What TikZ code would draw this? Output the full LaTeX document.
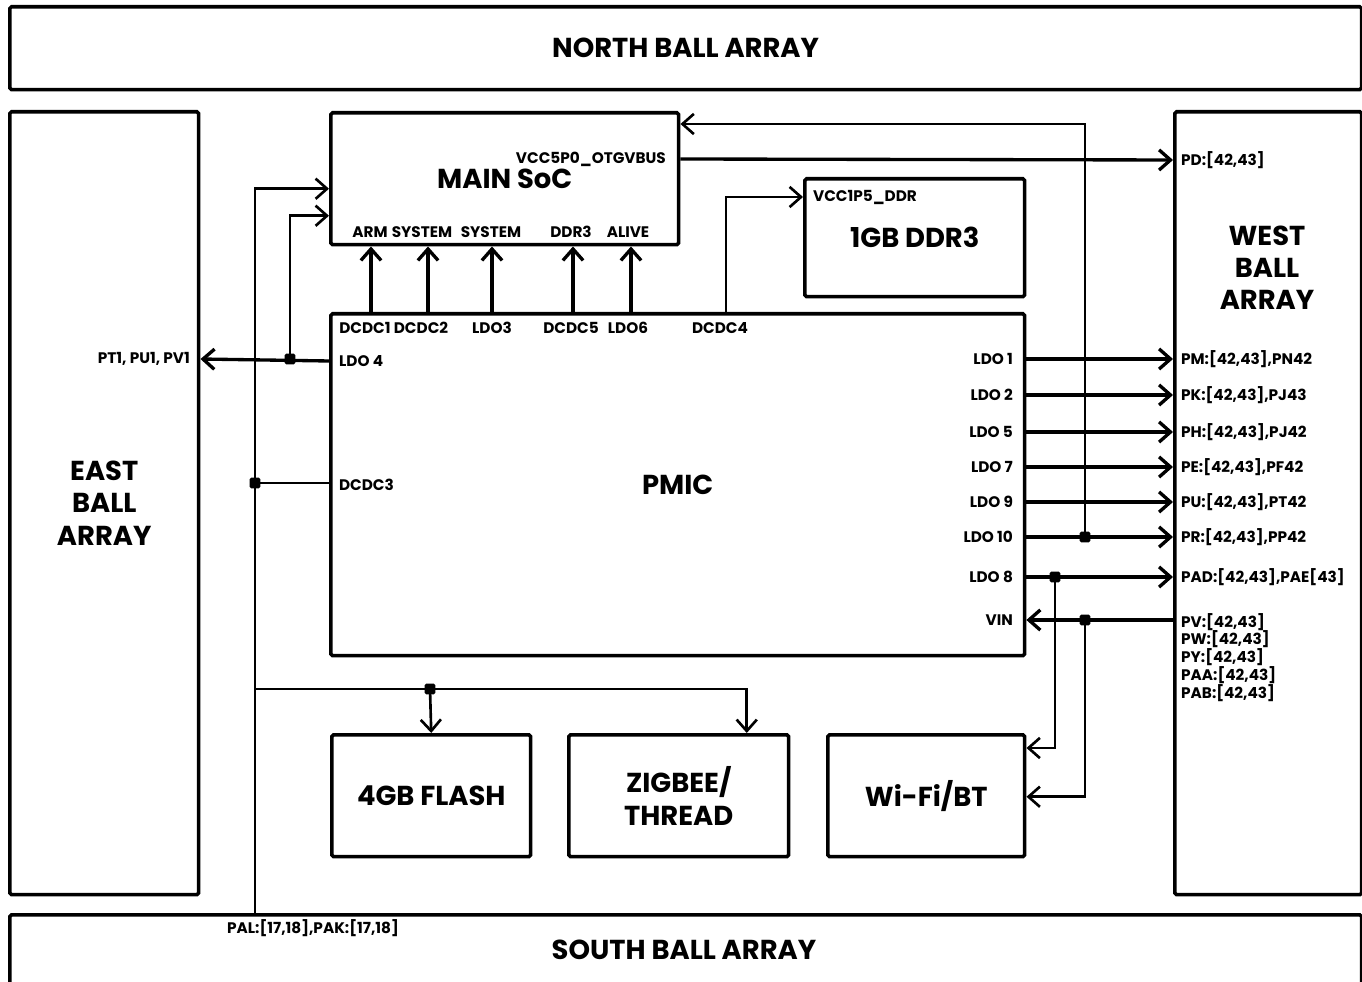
\documentclass[tikz,border=0pt]{standalone}
\usepackage{fontspec}
\setmainfont{Poppins}
\usetikzlibrary{arrows.meta,positioning,calc}
\tikzset{
  blk/.style={draw,line width=2pt,rounded corners=1pt,inner sep=0pt,anchor=north west,
    align=center,font=\bfseries\fontsize{15.6}{18.7}\selectfont},
  title/.style={inner sep=0pt,align=center,font=\bfseries\fontsize{15.6}{18.2}\selectfont},
  pin/.style={inner sep=1pt,font=\bfseries\fontsize{8.7}{10.2}\selectfont},
  arr/.style={-{Straight Barb[length=6.5pt,width=11.5pt]},line width=1.9pt},
  arrthin/.style={-{Straight Barb[length=6.5pt,width=11.5pt]},line width=1.5pt},
  wire/.style={line width=1.5pt},
  dot/.style={fill,inner sep=0pt,minimum size=6pt,rounded corners=0.8pt}
}

\begin{document}
\begin{tikzpicture}[x=0.02cm,y=-0.02cm]
  \useasboundingbox (0,0) rectangle (1362,982);
  % ball arrays
  \node[blk,minimum width=27.04cm,minimum height=1.66cm] (north) at (8,5) {NORTH BALL ARRAY};
  \node[blk,minimum width=3.78cm,minimum height=15.66cm] (east) at (8,110) {EAST\\BALL\\ARRAY};
  \node[blk,minimum width=3.74cm,minimum height=15.66cm] (west) at (1173,110) {};
  \node[title] (westlbl) at (1267,268) {WEST\\BALL\\ARRAY};
  \node[blk,minimum width=27.04cm,minimum height=2cm] (south) at (8,913) {};
  \node[title] (southlbl) at (684,950) {SOUTH BALL ARRAY};

  % chips
  \node[blk,minimum width=6.96cm,minimum height=2.64cm] (soc) at (329,111) {MAIN SoC};
  \node[blk,minimum width=4.40cm,minimum height=2.36cm] (ddr) at (803,177) {1GB DDR3};
  \node[blk,minimum width=13.88cm,minimum height=6.84cm] (pmic) at (329,312) {PMIC};
  \node[blk,minimum width=3.98cm,minimum height=2.44cm] (flash) at (330,733) {4GB FLASH};
  \node[blk,minimum width=4.40cm,minimum height=2.44cm] (zig) at (567,733) {ZIGBEE/\\THREAD};
  \node[blk,minimum width=3.94cm,minimum height=2.44cm] (wifi) at (826,733) {Wi-Fi/BT};

  % soc pins
  \node[pin] (sarm) at (370,232) {ARM};
  \node[pin] (ssys1) at (422,232) {SYSTEM};
  \node[pin] (ssys2) at (491,232) {SYSTEM};
  \node[pin] (sddr) at (571,232) {DDR3};
  \node[pin] (salive) at (628,232) {ALIVE};
  \node[pin,anchor=east] (vbus) at (668,159) {VCC5P0\_OTGVBUS};
  \node[pin,anchor=west] (vddr) at (811,197) {VCC1P5\_DDR};

  % pmic pins
  \node[pin] (pdc1) at (365,328) {DCDC1};
  \node[pin] (pdc2) at (421,328) {DCDC2};
  \node[pin] (pldo3) at (492,328) {LDO3};
  \node[pin] (pdc5) at (571,328) {DCDC5};
  \node[pin] (pldo6) at (628,328) {LDO6};
  \node[pin] (pdc4) at (720,328) {DCDC4};
  \node[pin,anchor=west] (ldo4) at (337,361) {LDO 4};
  \node[pin,anchor=west] (dcdc3) at (337,485) {DCDC3};
  \node[pin,anchor=east] (pt1) at (192,359) {PT1, PU1, PV1};
  \node[pin,anchor=west] (pd) at (1179,160) {PD:[42,43]};
  \node[pin,anchor=west] (pal) at (225,928) {PAL:[17,18],PAK:[17,18]};

  \foreach \p/\dx in {pdc1/6,pdc2/7,pldo3/0,pdc5/2,pldo6/3}
    \draw[arr] ($(pmic.north -| \p)+(\dx,0)$) -- ($(soc.south -| \p)+(\dx,0)$);
  \draw[arrthin] ($(pmic.north -| pdc4)+(6,0)$) |- (ddr.west |- vddr);
  \draw[arr] (soc.east |- vbus) -- (west.west |- pd);

  % pmic outputs to west
  \foreach \i/\y/\l/\r in {1/359/LDO 1/{PM:[42,43],PN42},2/395/LDO 2/{PK:[42,43],PJ43},
      5/432/LDO 5/{PH:[42,43],PJ42},7/467/LDO 7/{PE:[42,43],PF42},
      9/502/LDO 9/{PU:[42,43],PT42},10/537/LDO 10/{PR:[42,43],PP42},
      8/577/LDO 8/{PAD:[42,43],PAE[43]}}{
    \node[pin,anchor=east] (l\i) at (1015,\y) {\l};
    \node[pin,anchor=west] (r\i) at (1179,\y) {\r};
    \draw[arr] (pmic.east |- l\i) -- (west.west |- r\i);
  }
  \node[pin,anchor=east] (vin) at (1015,620) {VIN};
  \node[pin,anchor=north west,align=left] (rvin) at (1179,611)
    {PV:[42,43]\\PW:[42,43]\\PY:[42,43]\\PAA:[42,43]\\PAB:[42,43]};
  \draw[arr] (west.west |- vin) -- (pmic.east |- vin);

  % junctions
  \node[dot] (d10) at (1085,537) {};
  \node[dot] (d8) at (1055,577) {};
  \node[dot] (dvin) at (1085,620) {};
  \node[dot] (d4) at (290,359) {};
  \node[dot] (d3) at (255,483) {};
  \node[dot] (df) at (430,689) {};

  \draw[arrthin] (d10.center) |- ($(soc.north east)+(0,13)$);
  \draw[arrthin] (d8.center) |- ($(wifi.north east)+(0,15)$);
  \draw[arrthin] (dvin.center) |- ($(wifi.east)+(0,1)$);

  % left side
  \draw[arr] (pmic.west |- ldo4) -- (east.east |- pt1);
  \draw[arrthin] (d4.center) |- ($(soc.west)+(0,37)$);
  \draw[wire] (pmic.west |- d3) -- (d3.center);
  \draw[arrthin] (d3 |- south.north) |- ($(soc.west)+(0,10)$);
  \draw[arrthin] (d3 |- df) -| ($(zig.north)+(68,0)$);
  \draw[arrthin] (df.center) -- (flash.north);
\end{tikzpicture}
\end{document}
